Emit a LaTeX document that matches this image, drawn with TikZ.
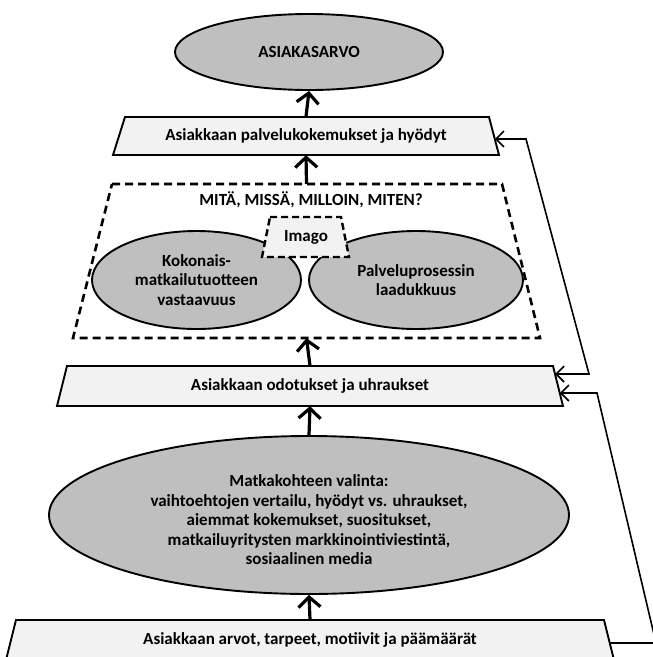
\documentclass[tikz,border=0pt]{standalone}
\usepackage{fontspec}
\setmainfont{Carlito}
\usetikzlibrary{shapes.geometric,arrows.meta,calc}

\definecolor{ellgray}{RGB}{191,191,191}
\definecolor{boxgray}{RGB}{242,242,242}

\tikzset{
  txt/.style={font=\fontsize{17}{19.5}\selectfont\bfseries, align=center},
  oval/.style={txt, ellipse, draw, line width=1.9pt, fill=ellgray, inner sep=0pt},
  holder/.style={txt, rectangle, inner sep=0pt},
  trapfill/.style={draw, line width=1.9pt, fill=boxgray, line join=miter},
  dashedge/.style={draw, line width=2.6pt, dash pattern=on 8pt off 5pt},
  uparrow/.style={line width=3.2pt, -{Straight Barb[length=10pt,width=22pt]}},
  feedback/.style={line width=1.6pt, line join=miter},
}

\begin{document}
\begin{tikzpicture}[x=1pt,y=-1pt]
\useasboundingbox (0,0) rectangle (653,657);
\fill[white] (0,0) rectangle (653,657);

% ---- corners of the slanted boxes ----
\coordinate (palvTL) at (125,117); \coordinate (palvTR) at (489,117);
\coordinate (palvBR) at (499,155); \coordinate (palvBL) at (113,155);
\coordinate (frTL) at (112,184);   \coordinate (frTR) at (502,184);
\coordinate (frBR) at (540,338);   \coordinate (frBL) at (73,338);
\coordinate (imTL) at (270,217);   \coordinate (imTR) at (341,217);
\coordinate (imBR) at (349,257);   \coordinate (imBL) at (262,257);
\coordinate (odTL) at (67,366);    \coordinate (odTR) at (553,366);
\coordinate (odBR) at (563,406);   \coordinate (odBL) at (57,406);
\coordinate (avTL) at (16,620);    \coordinate (avTR) at (604,620);
\coordinate (avBR) at (614,660);   \coordinate (avBL) at (6,660);

% top result
\node[oval, minimum width=268pt, minimum height=76pt] (arvo) at (309,52) {ASIAKASARVO};

% benefits box
\path[trapfill] (palvTL) -- (palvTR) -- (palvBR) -- (palvBL) -- cycle;
\node[holder, minimum width=370pt, minimum height=38pt] (palv) at (306,136)
      {Asiakkaan palvelukokemukset ja hyödyt};

% service experience frame
\path[dashedge] (frTL) -- (frTR) -- (frBR) -- (frBL) -- cycle;
\node[holder, minimum width=420pt, minimum height=154pt] (frame) at (306.5,261) {};
\node[txt] (kysy) at (311,200) {MITÄ, MISSÄ, MILLOIN, MITEN?};
\node[oval, minimum width=209pt, minimum height=98pt] (kok) at (196.5,280)
      {Kokonais-\\matkailutuotteen\\vastaavuus};
\node[oval, minimum width=214pt, minimum height=98pt] (pros) at (416,280)
      {Palveluprosessin\\laadukkuus};
\path[fill=boxgray] (imTL) -- (imTR) -- (imBR) -- (imBL) -- cycle;
\path[dashedge, line width=2.4pt, dash pattern=on 7pt off 4pt]
      (imTL) -- (imTR) -- (imBR) -- (imBL) -- cycle;
\node[holder] (imago) at (306,237) {Imago};

% expectations box
\path[trapfill] (odTL) -- (odTR) -- (odBR) -- (odBL) -- cycle;
\node[holder, minimum width=490pt, minimum height=40pt] (odot) at (310,386)
      {Asiakkaan odotukset ja uhraukset};

% destination choice
\node[oval, minimum width=520pt, minimum height=158pt] (valinta) at (309,515) {};
\node[holder] (valintatxt) at (309,520)
      {Matkakohteen valinta:\\vaihtoehtojen vertailu, hyödyt vs. uhraukset,\\
       aiemmat kokemukset, suositukset,\\matkailuyritysten markkinointiviestintä,\\
       sosiaalinen media};

% values box (runs off the bottom edge)
\path[trapfill] (avTL) -- (avTR) -- (avBR) -- (avBL) -- cycle;
\node[holder, minimum width=590pt, minimum height=40pt] (arvot) at (310,640)
      {Asiakkaan arvot, tarpeet, motiivit ja päämäärät};

% main upward flow
\draw[uparrow] (arvot.north) -- (valinta.south);
\draw[uparrow] (valinta.north) -- (odot.south);
\draw[uparrow] (odot.north) -- (frame.south);
\draw[uparrow] (frame.north) -- (palv.south);
\draw[uparrow] (palv.north) -- (arvo.south);

% feedback loops on the right
\coordinate (f1a) at (589,374);
\coordinate (f1b) at (526,139);
\draw[feedback, {Straight Barb[length=8pt,width=16pt]}-{Straight Barb[length=8pt,width=16pt]}]
  ($(odTR)!0.2!(odBR)$) -- (f1a) -- (f1b) -- ($(palvTR)!0.58!(palvBR)$);

\coordinate (f2a) at (656,643);
\coordinate (f2b) at (597,393);
\draw[feedback, -{Straight Barb[length=8pt,width=16pt]}]
  ($(avTR)!0.575!(avBR)$) -- (f2a) -- (f2b) -- ($(odTR)!0.675!(odBR)$);
\end{tikzpicture}
\end{document}
